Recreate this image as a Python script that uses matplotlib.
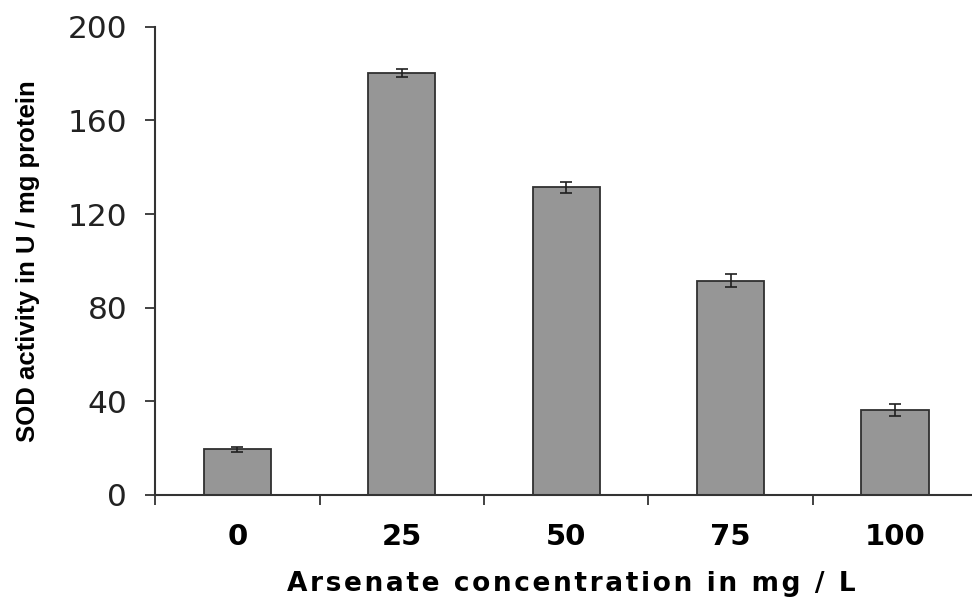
import numpy as np
import matplotlib.pyplot as plt

concentrations = ['0', '25', '50', '75', '100']
sod_activity = [19.5, 180.3, 131.5, 91.5, 36.3]
sod_error = [1.0, 1.8, 2.4, 2.8, 2.4]

fig = plt.figure(figsize=(9.72, 6.01), dpi=100)
ax = fig.add_axes([0.1595, 0.1764, 0.863, 0.779])

x = np.arange(len(concentrations))
ax.bar(x, sod_activity, width=0.41, color='#969696', edgecolor='#303030',
       linewidth=1.3, yerr=sod_error, capsize=4,
       error_kw=dict(ecolor='#202020', elinewidth=1.2, capthick=1.2))

ax.set_xlim(-0.5, 4.6)
ax.set_ylim(0, 200)
ax.set_yticks([0, 40, 80, 120, 160, 200])

# ticks on the x axis sit between the categories
ax.set_xticks(np.arange(-0.5, 4.6, 1.0))
ax.set_xticklabels([])
ax.set_xticks(x, minor=True)
ax.set_xticklabels(concentrations, minor=True, fontsize=21, fontweight='bold',
                   family='DejaVu Sans')
ax.tick_params(axis='x', which='minor', length=0, pad=20)
ax.tick_params(axis='x', which='major', length=7, width=1.3, direction='out',
               color='#333333')
ax.tick_params(axis='y', length=7, width=1.3, direction='out', color='#333333',
               labelsize=22.5, pad=13)
for lab in ax.get_yticklabels():
    lab.set_family('DejaVu Sans')
    lab.set_color('#222222')

for side in ['top', 'right']:
    ax.spines[side].set_visible(False)
for side in ['left', 'bottom']:
    ax.spines[side].set_linewidth(1.5)
    ax.spines[side].set_color('#333333')

# slightly spaced-out letters in the x label
xlabel = '\u200a'.join('Arsenate concentration in mg / L')
ax.set_xlabel(xlabel, fontsize=19, fontweight='bold', family='DejaVu Sans')
ax.xaxis.set_label_coords(0.496, -0.162)
ax.set_ylabel('SOD activity in U / mg protein', fontsize=18.5, fontweight='bold',
              family=['Liberation Sans Narrow', 'Liberation Sans'])
ax.yaxis.set_label_coords(-0.137, 0.5)

fig.savefig('out.png', dpi=100)
